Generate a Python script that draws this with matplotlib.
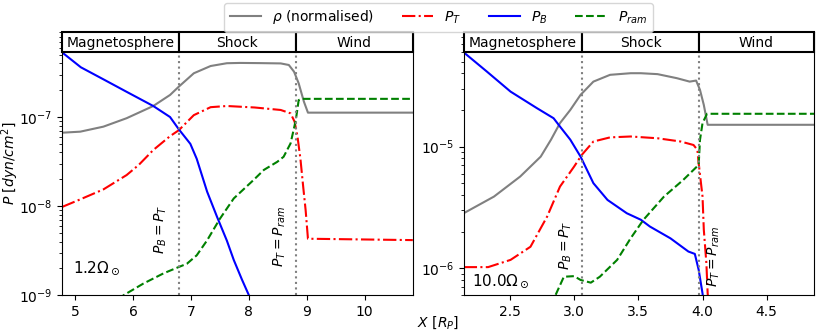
import numpy as np
import matplotlib
matplotlib.use("Agg")
import matplotlib.pyplot as plt
import matplotlib.transforms as mtransforms
from matplotlib.patches import Rectangle

# --- panel 1: 1.2 Omega_sun ---
x_rho_a = [4.78, 5.09, 5.49, 5.89, 6.1, 6.35, 6.64, 6.79, 7.05, 7.34, 7.62, 7.85, 8.2,
           8.55, 8.69, 8.78, 8.86, 8.95, 9.02, 10.83]
rho_a = [6.67e-8, 6.85e-8, 7.8e-8, 9.7e-8, 1.12e-7, 1.33e-7, 1.77e-7, 2.19e-7, 3.1e-7,
         3.74e-7, 4.02e-7, 4.05e-7, 4.03e-7, 4.0e-7, 3.84e-7, 3.23e-7, 2.39e-7, 1.49e-7,
         1.12e-7, 1.12e-7]
x_pt_a = [4.78, 5.09, 5.49, 5.89, 6.1, 6.35, 6.64, 6.79, 7.05, 7.34, 7.62, 8.1, 8.55,
          8.72, 8.79, 8.84, 8.89, 8.94, 8.98, 9.02, 10.83]
pt_a = [9.8e-9, 1.19e-8, 1.54e-8, 2.23e-8, 2.9e-8, 4.26e-8, 6.1e-8, 7.1e-8, 1.05e-7,
        1.29e-7, 1.33e-7, 1.28e-7, 1.2e-7, 1.1e-7, 8.85e-8, 6.0e-8, 3.4e-8, 1.6e-8,
        9.0e-9, 4.3e-9, 4.15e-9]
x_pb_a = [4.7, 4.78, 5.1, 5.49, 5.89, 6.35, 6.64, 6.79, 6.99, 7.1, 7.28, 7.45, 7.62,
          7.74, 7.88, 8.0, 8.1]
pb_a = [5.9e-7, 5.3e-7, 3.62e-7, 2.65e-7, 1.92e-7, 1.33e-7, 1.0e-7, 7.3e-8, 5.0e-8,
        3.4e-8, 1.45e-8, 7.6e-9, 4.1e-9, 2.48e-9, 1.5e-9, 1.0e-9, 7e-10]
x_pram_a = [5.6, 5.84, 6.18, 6.53, 6.79, 6.93, 7.1, 7.28, 7.5, 7.74, 8.08, 8.26, 8.49,
            8.6, 8.72, 8.81, 8.86, 8.92, 10.83]
pram_a = [7.5e-10, 1.0e-9, 1.35e-9, 1.76e-9, 2.07e-9, 2.25e-9, 2.8e-9, 4.13e-9, 7.2e-9,
          1.22e-8, 1.96e-8, 2.55e-8, 3.14e-8, 3.58e-8, 5.06e-8, 9.2e-8, 1.55e-7, 1.6e-7,
          1.6e-7]
bounds_a = [6.79, 8.81]

# --- panel 2: 10.0 Omega_sun ---
x_rho_b = [2.14, 2.376, 2.58, 2.74, 2.82, 2.89, 2.97, 3.05, 3.15, 3.28, 3.44, 3.52,
           3.65, 3.8, 3.9, 3.95, 3.98, 4.01, 4.04, 4.87]
rho_b = [2.83e-6, 3.88e-6, 5.67e-6, 8.27e-6, 1.14e-5, 1.56e-5, 2.0e-5, 2.66e-5, 3.42e-5,
         3.89e-5, 4.01e-5, 4.01e-5, 3.94e-5, 3.65e-5, 3.42e-5, 3.49e-5, 2.93e-5, 2.2e-5,
         1.51e-5, 1.51e-5]
x_pt_b = [2.14, 2.33, 2.505, 2.66, 2.79, 2.89, 3.0, 3.06, 3.15, 3.28, 3.44, 3.65, 3.83,
          3.93, 3.96, 3.97, 4.0, 4.01, 4.03, 4.04, 4.06]
pt_b = [1.02e-6, 1.02e-6, 1.17e-6, 1.5e-6, 2.66e-6, 4.69e-6, 6.85e-6, 8.55e-6, 1.1e-5,
        1.19e-5, 1.21e-5, 1.17e-5, 1.1e-5, 1.03e-5, 9.4e-6, 7.3e-6, 3.88e-6, 2.07e-6,
        1.1e-6, 6.2e-7, 4e-7]
x_pb_b = [2.1, 2.142, 2.32, 2.505, 2.71, 2.84, 2.89, 2.97, 3.05, 3.15, 3.26, 3.41, 3.52,
          3.59, 3.75, 3.89, 3.94, 3.97, 4.0, 4.03]
pb_b = [6.5e-5, 5.93e-5, 4.14e-5, 2.83e-5, 2.07e-5, 1.71e-5, 1.46e-5, 1.14e-5, 8.27e-6,
        5.0e-6, 3.64e-6, 2.83e-6, 2.5e-6, 2.2e-6, 1.76e-6, 1.37e-6, 1.31e-6, 9.7e-7,
        6.2e-7, 3.5e-7]
x_pram_b = [2.82, 2.855, 2.92, 3.0, 3.05, 3.13, 3.2, 3.335, 3.44, 3.54, 3.7, 3.85, 3.97,
            3.98, 4.0, 4.035, 4.87]
pram_b = [5.0e-7, 6.0e-7, 8.5e-7, 8.6e-7, 8.0e-7, 7.6e-7, 8.5e-7, 1.17e-6, 1.76e-6,
          2.5e-6, 3.88e-6, 5.32e-6, 7.07e-6, 1.13e-5, 1.56e-5, 1.86e-5, 1.86e-5]
bounds_b = [3.065, 3.97]

regions = ["Magnetosphere", "Shock", "Wind"]


def draw_header(ax, edges):
    trans = mtransforms.blended_transform_factory(ax.transData, ax.transAxes)
    for x0, x1, name in zip(edges[:-1], edges[1:], regions):
        ax.add_patch(Rectangle((x0, 0.923), x1 - x0, 0.077, transform=trans,
                               facecolor="white", edgecolor="black", lw=1.5,
                               zorder=5, clip_on=False))
        ax.text((x0 + x1) / 2, 0.958, name, transform=trans, ha="center",
                va="center", fontsize=10, zorder=6)


fig, axes = plt.subplots(1, 2, figsize=(8.3, 3.32), dpi=100)
plt.subplots_adjust(left=0.0747, right=0.981, bottom=0.111, top=0.9045, wspace=0.146)

panels = [
    (axes[0], x_rho_a, rho_a, x_pt_a, pt_a, x_pb_a, pb_a, x_pram_a, pram_a, bounds_a,
     (4.775, 10.825), (1e-9, 9.08e-7)),
    (axes[1], x_rho_b, rho_b, x_pt_b, pt_b, x_pb_b, pb_b, x_pram_b, pram_b, bounds_b,
     (2.14, 4.87), (6.0e-7, 8.8e-5)),
]

for ax, xr, r, xt, t, xb, b, xm, m, bnd, xl, yl in panels:
    ax.plot(xr, r, color="gray", lw=1.5, label=r"$\rho$ (normalised)")
    ax.plot(xt, t, color="r", ls="-.", lw=1.5, label=r"$P_T$")
    ax.plot(xb, b, color="b", ls="-", lw=1.5, label=r"$P_B$")
    ax.plot(xm, m, color="g", ls="--", lw=1.5, label=r"$P_{ram}$")
    for xv in bnd:
        ax.axvline(xv, color="gray", ls=":", lw=1.5)
    ax.set_yscale("log")
    ax.set_xlim(*xl)
    ax.set_ylim(*yl)
    draw_header(ax, [xl[0], bnd[0], bnd[1], xl[1]])

# annotations
tr0 = mtransforms.blended_transform_factory(axes[0].transData, axes[0].transAxes)
tr1 = mtransforms.blended_transform_factory(axes[1].transData, axes[1].transAxes)
axes[0].text(6.48, 0.25, r"$P_B = P_T$", transform=tr0, rotation=90, ha="center", va="center", fontsize=10)
axes[0].text(8.53, 0.221, r"$P_T = P_{ram}$", transform=tr0, rotation=90, ha="center", va="center", fontsize=10)
axes[1].text(2.933, 0.19, r"$P_B = P_T$", transform=tr1, rotation=90, ha="center", va="center", fontsize=10)
axes[1].text(4.09, 0.147, r"$P_T = P_{ram}$", transform=tr1, rotation=90, ha="center", va="center", fontsize=10)
axes[0].text(0.032, 0.102, r"$1.2\Omega_\odot$", transform=axes[0].transAxes, ha="left", va="center", fontsize=11)
axes[1].text(0.024, 0.053, r"$10.0\Omega_\odot$", transform=axes[1].transAxes, ha="left", va="center", fontsize=11)

axes[0].set_ylabel(r"$P\ [dyn/cm^2]$", fontsize=10)
axes[0].yaxis.set_label_coords(-0.117, 0.5)
fig.text(0.528, 0.027, r"$X\ [R_P]$", ha="center", va="center", fontsize=10)

handles, labels = axes[0].get_legend_handles_labels()
fig.legend(handles, labels, loc="upper center", bbox_to_anchor=(0.528, 1.0), ncol=4,
           fontsize=10, borderaxespad=0.2, handlelength=2.25)

plt.savefig("out.png", dpi=100)
